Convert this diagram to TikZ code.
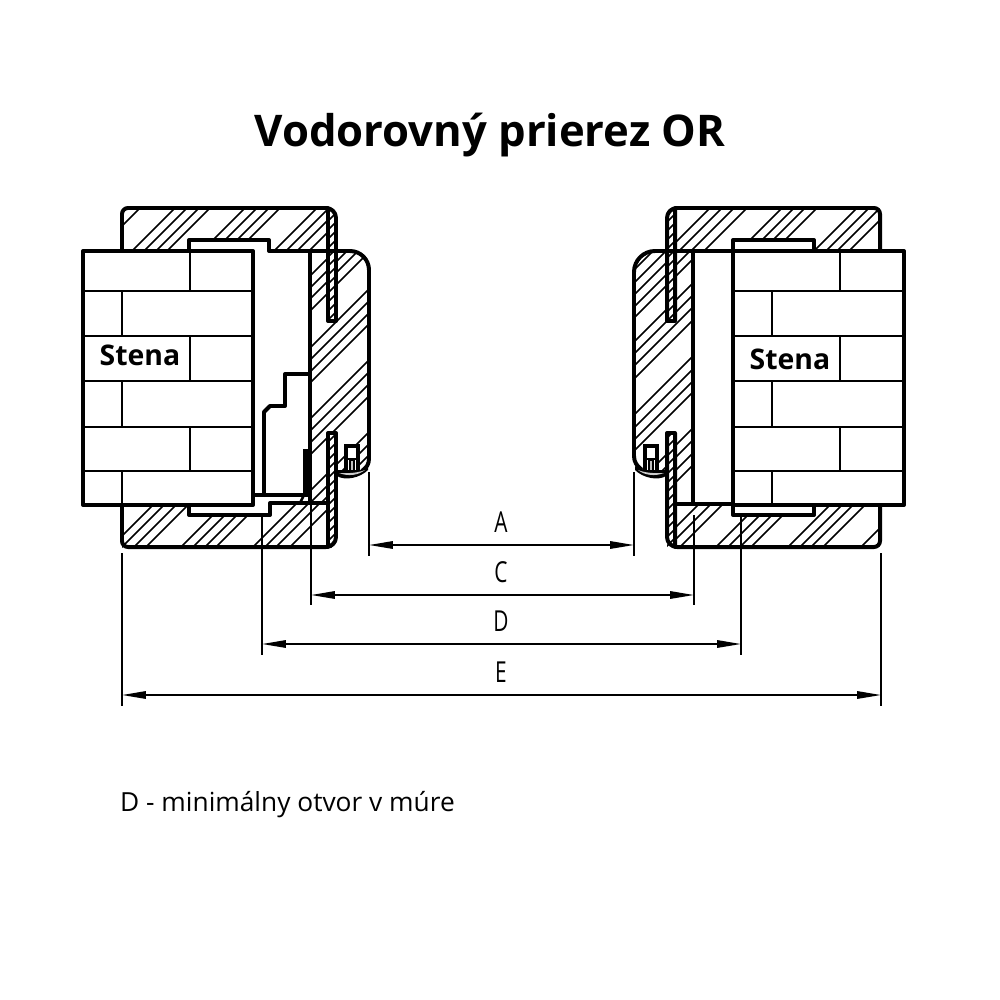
\documentclass[tikz,border=0pt]{standalone}
\usepackage{fontspec}
\usepackage{graphicx}
\setmainfont{Open Sans}
\usetikzlibrary{arrows.meta}
\newcommand{\hatchin}[2]{\begin{scope}\clip #1;\foreach \cc in {#2}{\draw[hatchline] ({\cc-100},100)--({\cc-800},800);}\end{scope}}
\tikzset{
  thick line/.style={line width=4pt,line join=round,line cap=round},
  thin line/.style={line width=1.5pt},
  hatchline/.style={line width=1.5pt},
  dimline/.style={line width=1.6pt,{Stealth[length=24pt,width=7.5pt,inset=0pt]}-{Stealth[length=24pt,width=7.5pt,inset=0pt]}},
  extline/.style={line width=1.5pt},
  dimlabel/.style={font=\fontsize{29}{32}\selectfont},
  titletext/.style={font=\fontsize{43.8}{50}\selectfont\bfseries},
  walltext/.style={font=\fontsize{28.5}{30}\selectfont\bfseries,inner sep=1pt},
  captiontext/.style={font=\fontsize{26.4}{30}\selectfont,anchor=west,inner sep=0pt}
}
\newcommand{\condensed}[1]{\scalebox{0.72}[1]{#1}}
\begin{document}
\begin{tikzpicture}[x=1bp,y=-1bp]
\useasboundingbox (0,0) rectangle (1000,1000);
\fill[white] (0,0) rectangle (1000,1000);
% ---------- LEFT hatching
\hatchin{(122,214) arc[start angle=180,end angle=270,radius=6] -- (328,208) -- (328,251) -- (122,251) -- cycle}{348,383,395,407,418,453,465,477,488,525,537,548,560}
\hatchin{(122,505) rectangle (328,547)}{658,669,681,693,728,740,752,763,800,812,823,837}
\hatchin{(310,251) -- (350,251) arc[start angle=-90,end angle=0,radius=19] -- (369,458) .. controls (369,464) and (367,467) .. (363,470) -- (337,472) -- (337,503) -- (310,503) -- cycle}{586,598,609,621,658,670,682,693,729,741,753,765,801,813,824,836,848}
% ---------- RIGHT hatching
\hatchin{(675,208) -- (874,208) arc[start angle=-90,end angle=0,radius=6] -- (880,251) -- (675,251) -- cycle}{918,930,942,955,990,1002,1013,1025,1065,1077,1088,1100}
\hatchin{(675,505) rectangle (880,547)}{1203,1215,1227,1263,1275,1287,1298,1335,1347,1358,1370,1408}
\hatchin{(693,251) -- (655,251) arc[start angle=270,end angle=180,radius=21] -- (634,456) .. controls (634,462) and (637,466) .. (641,469) -- (667,472) -- (667,503) -- (693,503) -- cycle}{904,917,929,941,952,976,988,1000,1013,1049,1062,1074,1085,1121,1133,1146,1158}
% ---------- white notches over hatching
\fill[white] (189,240) rectangle (269,251);
\fill[white] (189,505) rectangle (270,515);
\fill[white] (733,240) rectangle (814,251);
\fill[white] (733,505) rectangle (814,515);
% ---------- metal strips
\fill[white] (328,208) rectangle (336,321);
\fill[white] (328,433) rectangle (336,547);
\fill[white] (667,208) rectangle (675,321);
\fill[white] (667,433) rectangle (675,547);
\hatchin{(328,208) rectangle (336,321)}{540,549,558,567,576,585,594,603,612,621,630,639,648}
\hatchin{(328,433) rectangle (336,547)}{770,779,788,797,806,815,824,833,842,851,860,869,878}
\hatchin{(667,208) rectangle (675,321)}{880,889,898,907,916,925,934,943,952,961,970,979,988}
\hatchin{(667,433) rectangle (675,547)}{1105,1114,1123,1132,1141,1150,1159,1168,1177,1186,1195,1204,1213}
% ---------- LEFT outlines
\draw[thick line] (122,251) -- (122,214) arc[start angle=180,end angle=270,radius=6] -- (326,208) arc[start angle=-90,end angle=0,radius=10] -- (336,321) -- (328,321) -- (328,208);
\draw[thick line] (189,251) -- (189,240) -- (269,240) -- (269,251) -- (350,251) arc[start angle=-90,end angle=0,radius=19] -- (369,458) .. controls (369,464) and (367,467) .. (363,470);
\draw[thick line] (310,251) -- (310,503);
\draw[thick line] (328,503) -- (270,503) -- (270,515) -- (189,515) -- (189,505);
\draw[thick line] (122,505) -- (122,541) arc[start angle=180,end angle=90,radius=6] -- (326,547) arc[start angle=90,end angle=0,radius=10] -- (336,433) -- (328,433) -- (328,547);
\draw[thick line] (83,251) rectangle (253,505);
\draw[thick line] (253,495) -- (310,495);
\draw[thick line] (264,495) -- (264,412) -- (270,406) -- (285,406) -- (285,374) -- (310,374);
\draw[line width=5.5pt] (306,449) -- (306,493);
\draw[line width=2.5pt] (300,503) -- (306,491);
% bricks left
\draw[thin line] (83,291) -- (253,291) (83,336) -- (253,336) (83,381) -- (253,381) (83,427) -- (253,427) (83,471) -- (253,471);
\draw[thin line] (190,251) -- (190,291) (122,291) -- (122,336) (190,336) -- (190,381) (122,381) -- (122,427) (190,427) -- (190,471) (122,471) -- (122,505);
% seal left
\fill[white] (345,445) rectangle (359,470);
\draw[line width=3.2pt] (346,470) -- (346,446) -- (358,446) -- (358,470);
\draw[line width=1.5pt] (347,459) -- (357,459);
\fill (349,460) rectangle (355,472);
\fill[white!75!black] (351.3,461) rectangle (352.8,471);
\fill (337,470) -- (345,470) -- (360,470) -- (368,466) -- (368,470) .. controls (360,478) and (345,481) .. (337,476) -- cycle;
\fill[white!80!black] (339,473) .. controls (348,476.5) and (358,475.5) .. (365,470) .. controls (358,473) and (348,473.5) .. (339,473) -- cycle;
% ---------- RIGHT outlines
\draw[thick line] (880,251) -- (880,214) arc[start angle=0,end angle=-90,radius=6] -- (677,208) arc[start angle=270,end angle=180,radius=10] -- (667,321) -- (675,321) -- (675,208);
\draw[thick line] (733,251) -- (733,240) -- (814,240) -- (814,251);
\draw[thick line] (733,251) -- (655,251) arc[start angle=270,end angle=180,radius=21] -- (634,456) .. controls (634,462) and (637,466) .. (641,469);
\draw[thick line] (693,251) -- (693,504);
\draw[thick line] (675,504) -- (733,504) (733,505) -- (733,515) -- (814,515) -- (814,505);
\draw[thick line] (880,505) -- (880,541) arc[start angle=0,end angle=90,radius=6] -- (677,547) arc[start angle=90,end angle=180,radius=10] -- (667,433) -- (675,433) -- (675,547);
\draw[thick line] (733,251) rectangle (904,505);
% bricks right
\draw[thin line] (733,291) -- (904,291) (733,336) -- (904,336) (733,381) -- (904,381) (733,427) -- (904,427) (733,471) -- (904,471);
\draw[thin line] (840,251) -- (840,291) (772,291) -- (772,336) (840,336) -- (840,381) (772,381) -- (772,427) (840,427) -- (840,471) (772,471) -- (772,505);
% seal right
\fill[white] (644,445) rectangle (658,470);
\draw[line width=3.2pt] (645,470) -- (645,446) -- (657,446) -- (657,470);
\draw[line width=1.5pt] (646,459) -- (656,459);
\fill (648,460) rectangle (654,472);
\fill[white!75!black] (650.3,461) rectangle (651.8,471);
\fill (666,470) -- (658,470) -- (643,470) -- (635,466) -- (635,470) .. controls (643,478) and (658,481) .. (666,476) -- cycle;
\fill[white!80!black] (664,473) .. controls (655,476.5) and (645,475.5) .. (638,470) .. controls (645,473) and (655,473.5) .. (664,473) -- cycle;
% ---------- dimensions
\coordinate (a1) at (369,545); \coordinate (a2) at (634,545);
\coordinate (c1) at (311,595); \coordinate (c2) at (694,595);
\coordinate (d1) at (262,644); \coordinate (d2) at (741,644);
\coordinate (e1) at (122,695); \coordinate (e2) at (881,695);
\coordinate (a1t) at (369,472); \coordinate (a2t) at (634,472);
\coordinate (c1t) at (311,505); \coordinate (c2t) at (694,515);
\coordinate (d1t) at (262,517); \coordinate (d2t) at (741,517);
\coordinate (e1t) at (122,553); \coordinate (e2t) at (881,553);
\draw[extline] (a1t) -- (369,556) (a2t) -- (634,556);
\draw[extline] (c1t) -- (311,605) (c2t) -- (694,605);
\draw[extline] (d1t) -- (262,655) (d2t) -- (741,655);
\draw[extline] (e1t) -- (122,706) (e2t) -- (881,706);
\draw[dimline] (a1) -- (a2);
\draw[dimline] (c1) -- (c2);
\draw[dimline] (d1) -- (d2);
\draw[dimline] (e1) -- (e2);
\node[dimlabel] (la) at (501,522) {\condensed{A}};
\node[dimlabel] (lc) at (501,572) {\condensed{C}};
\node[dimlabel] (ld) at (501,621) {\condensed{D}};
\node[dimlabel] (le) at (501,672) {\condensed{E}};
% ---------- text
\node[titletext] (title) at (490,135) {Vodorovný prierez OR};
\node[walltext] (s1) at (140,355) {Stena};
\node[walltext] (s2) at (790,359) {Stena};
\node[captiontext] (cap) at (120,805) {D - minimálny otvor v múre};
\end{tikzpicture}
\end{document}
